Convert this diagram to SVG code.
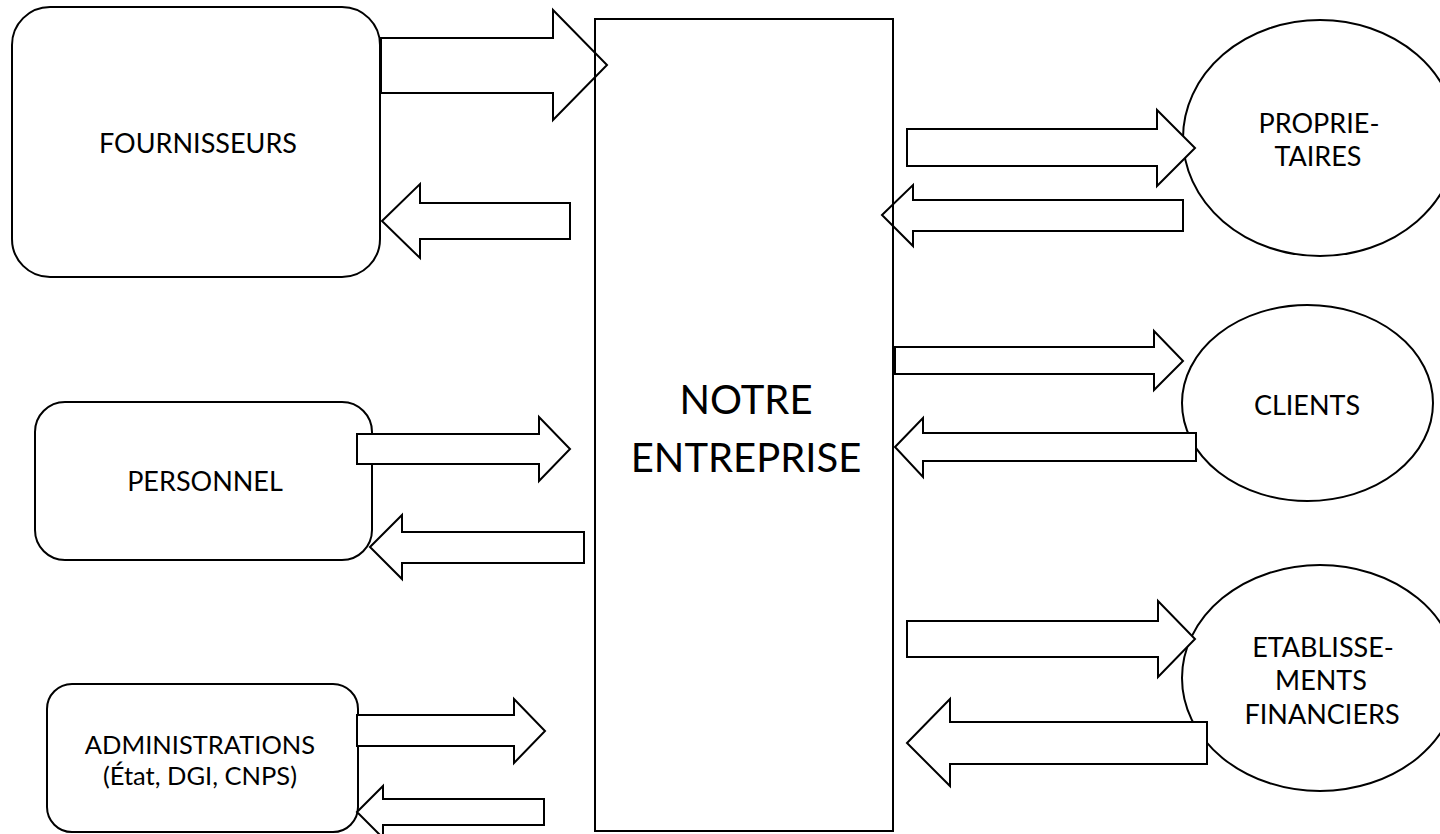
<svg xmlns="http://www.w3.org/2000/svg" width="1440" height="834" viewBox="0 0 1440 834">
<style>
.shape{fill:#fff;stroke:#000;stroke-width:2}
.arrow{fill:#fff;stroke:#000;stroke-width:2;stroke-linejoin:miter}
.lbl{font-family:Lato,"Liberation Sans",sans-serif;font-size:27px;fill:#000;text-anchor:middle}
.sm{font-size:25.5px}
.big{font-family:Lato,"Liberation Sans",sans-serif;font-size:40px;fill:#000;text-anchor:middle}
</style>
<rect width="1440" height="834" fill="#fff"/>
<g id="fournisseurs">
<rect class="shape" x="12" y="7" width="368" height="270" rx="38" ry="38"/>
<text class="lbl" x="198" y="153">FOURNISSEURS</text>
</g>
<g id="personnel">
<rect class="shape" x="35" y="402" width="337" height="158" rx="30" ry="30"/>
<text class="lbl" x="205" y="491">PERSONNEL</text>
</g>
<g id="administrations">
<rect class="shape" x="47" y="684" width="311" height="148" rx="25" ry="25"/>
<text class="lbl sm" x="200" y="754">ADMINISTRATIONS</text>
<text class="lbl sm" x="200" y="785">(État, DGI, CNPS)</text>
</g>
<g id="proprietaires">
<ellipse class="shape" cx="1320" cy="138" rx="137" ry="118"/>
<text class="lbl" x="1319" y="133">PROPRIE-</text>
<text class="lbl" x="1318" y="166">TAIRES</text>
</g>
<g id="clients">
<ellipse class="shape" cx="1307.5" cy="403" rx="125.5" ry="98"/>
<text class="lbl" x="1307" y="415">CLIENTS</text>
</g>
<g id="etablissements">
<ellipse class="shape" cx="1320" cy="678" rx="138" ry="113"/>
<text class="lbl" x="1323" y="657">ETABLISSE-</text>
<text class="lbl" x="1321" y="690">MENTS</text>
<text class="lbl" x="1322" y="724">FINANCIERS</text>
</g>
<g id="connectors">
<polygon class="arrow" points="381,38 553,38 553,10 607,65 553,120 553,93 381,93"/>
<polygon class="arrow" points="382,221 420,184 420,203 570,203 570,239 420,239 420,258"/>
<polygon class="arrow" points="357,434 539,434 539,417 570,449 539,481 539,464 357,464"/>
<polygon class="arrow" points="370,547 402,515 402,532 584,532 584,563 402,563 402,579"/>
<polygon class="arrow" points="357,715 514,715 514,699 545,731 514,763 514,746 357,746"/>
<polygon class="arrow" points="357,812 383,786 383,799 544,799 544,825 383,825 383,838"/>
<polygon class="arrow" points="907,129 1157,129 1157,110 1195,148 1157,186 1157,166 907,166"/>
<polygon class="arrow" points="882,215 913,185 913,200 1183,200 1183,231 913,231 913,246"/>
<polygon class="arrow" points="895,347 1154,347 1154,331 1183,361 1154,390 1154,374 895,374"/>
<polygon class="arrow" points="895,447 923,418 923,433 1196,433 1196,461 923,461 923,477"/>
<polygon class="arrow" points="907,621 1158,621 1158,601 1195,639 1158,677 1158,657 907,657"/>
<polygon class="arrow" points="907,743 950,699 950,722 1207,722 1207,764 950,764 950,786"/>
</g>
<g id="entreprise">
<rect x="595" y="19" width="298" height="812" fill="none" stroke="#000" stroke-width="2"/>
<text class="big" x="746" y="414">NOTRE</text>
<text class="big" x="746" y="472">ENTREPRISE</text>
</g>
</svg>
